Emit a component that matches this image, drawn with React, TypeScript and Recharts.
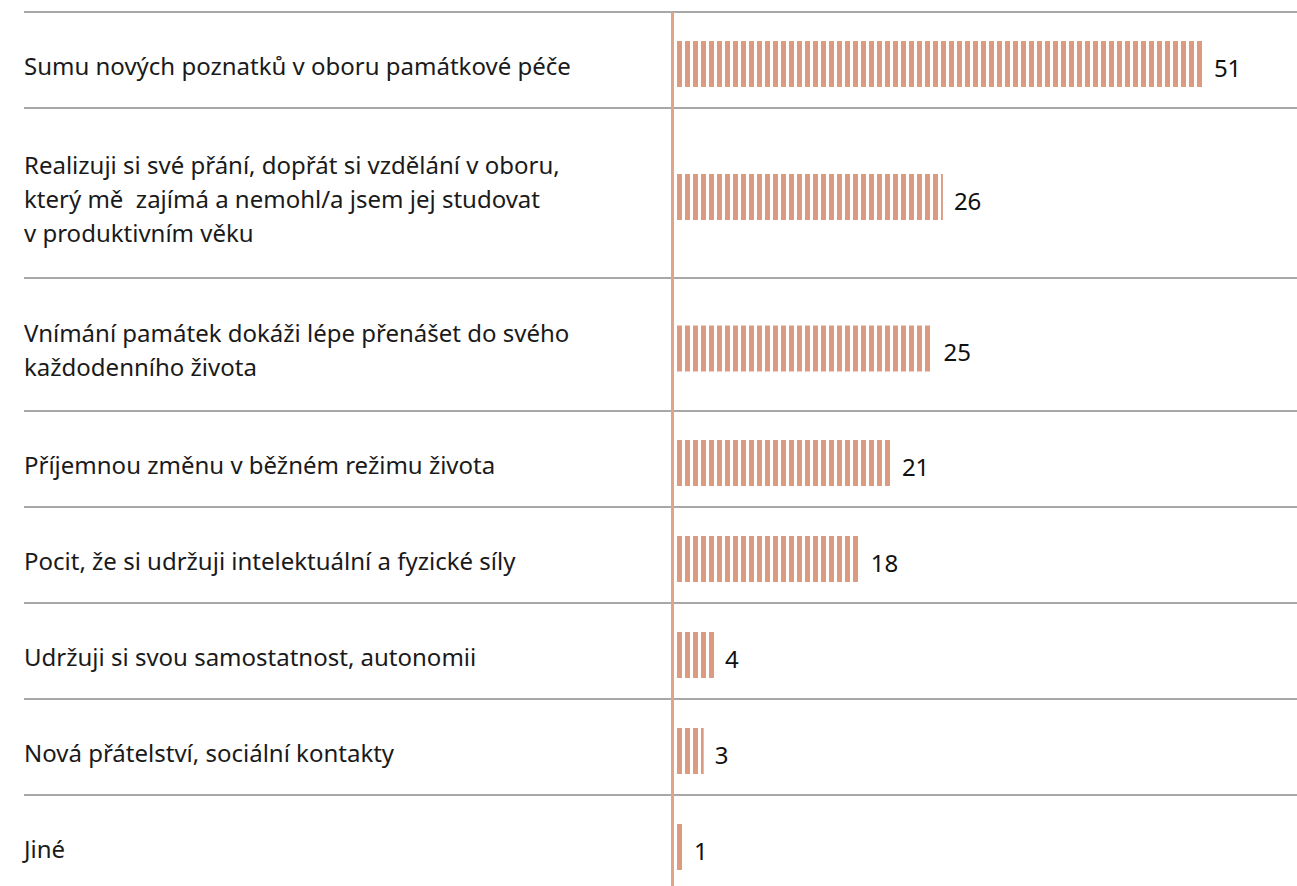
import { BarChart, Bar, XAxis, YAxis, ReferenceLine, LabelList } from "recharts";

// categories (line breaks as in the original labels)
const categories = [
  "Sumu nových poznatků v oboru památkové péče",
  "Realizuji si své přání, dopřát si vzdělání v oboru,\nkterý mě  zajímá a nemohl/a jsem jej studovat\nv produktivním věku",
  "Vnímání památek dokáži lépe přenášet do svého\nkaždodenního života",
  "Příjemnou změnu v běžném režimu života",
  "Pocit, že si udržuji intelektuální a fyzické síly",
  "Udržuji si svou samostatnost, autonomii",
  "Nová přátelství, sociální kontakty",
  "Jiné",
];
const values = [51, 26, 25, 21, 18, 4, 3, 1];

const WIDTH = 1297;
const HEIGHT = 886;
const LEFT = 24;
const TOP = 12;
const ZERO_X = 672.5;
const PX_PER_UNIT = 10.4;
const LINE_HEIGHT = 34;
const ROW_BASE = 96;
const ROW_PER_LINE = 37;
const BAR_OFFSET = 4; // bars sit a little below the middle of their row
const BAR_COLOR = "#dc9b7f";
const AXIS_COLOR = "#e2a487";
const RULE_COLOR = "#a8a8a8";

// row heights grow with the number of label lines; y axis runs in pixels
const rowHeights = categories.map((c) => ROW_BASE + ROW_PER_LINE * (c.split("\n").length - 1));
const boundaries = [0];
rowHeights.forEach((h) => boundaries.push(boundaries[boundaries.length - 1] + h));

const data = categories.map((name, i) => ({
  name,
  value: values[i],
  pos: boundaries[i] + rowHeights[i] / 2 + BAR_OFFSET,
}));

const xDomain = [-(ZERO_X - LEFT) / PX_PER_UNIT, (WIDTH - ZERO_X) / PX_PER_UNIT];

const CategoryTick = (props: any) => {
  const { y, payload } = props;
  const row = data.find((d) => Math.abs(d.pos - Number(payload?.value)) < 0.01);
  if (!row) return null;
  const lines = row.name.split("\n");
  const startY = y - ((lines.length - 1) * LINE_HEIGHT) / 2 + 2;
  return (
    <text x={LEFT} y={startY} fill="#1a1a1a" fontSize={24} style={{ whiteSpace: "pre" }}>
      {lines.map((l, i) => (
        <tspan key={i} x={LEFT} y={startY + i * LINE_HEIGHT} dy="0.36em">
          {l}
        </tspan>
      ))}
    </text>
  );
};

export default function App() {
  return (
    <div style={{ width: WIDTH, height: HEIGHT, fontFamily: "'Noto Sans', sans-serif", background: "#fff" }}>
      <style>{"body{margin:0}"}</style>
      <BarChart
        width={WIDTH}
        height={HEIGHT}
        data={data}
        layout="vertical"
        margin={{ top: TOP, right: 0, bottom: 0, left: LEFT - 1 }}
      >
        <defs>
          <pattern id="stripes" patternUnits="userSpaceOnUse" x={ZERO_X + 4.5} y={0} width={8} height={8}>
            <rect x={0} y={0} width={5} height={8} fill={BAR_COLOR} />
          </pattern>
        </defs>
        <XAxis type="number" domain={xDomain} hide />
        <YAxis
          type="number"
          dataKey="pos"
          domain={[0, HEIGHT - TOP]}
          allowDataOverflow
          ticks={data.map((d) => d.pos)}
          interval={0}
          tick={CategoryTick}
          width={1}
          axisLine={false}
          tickLine={false}
        />
        {boundaries.slice(0, -1).map((b) => (
          <ReferenceLine key={b} y={b} stroke={RULE_COLOR} strokeWidth={2} />
        ))}
        <Bar dataKey="value" fill="url(#stripes)" barSize={46} isAnimationActive={false}>
          <LabelList dataKey="value" position="right" offset={11} fill="#111" fontSize={24} dy={4} />
        </Bar>
        <ReferenceLine x={0} stroke={AXIS_COLOR} strokeWidth={3} />
      </BarChart>
    </div>
  );
}
